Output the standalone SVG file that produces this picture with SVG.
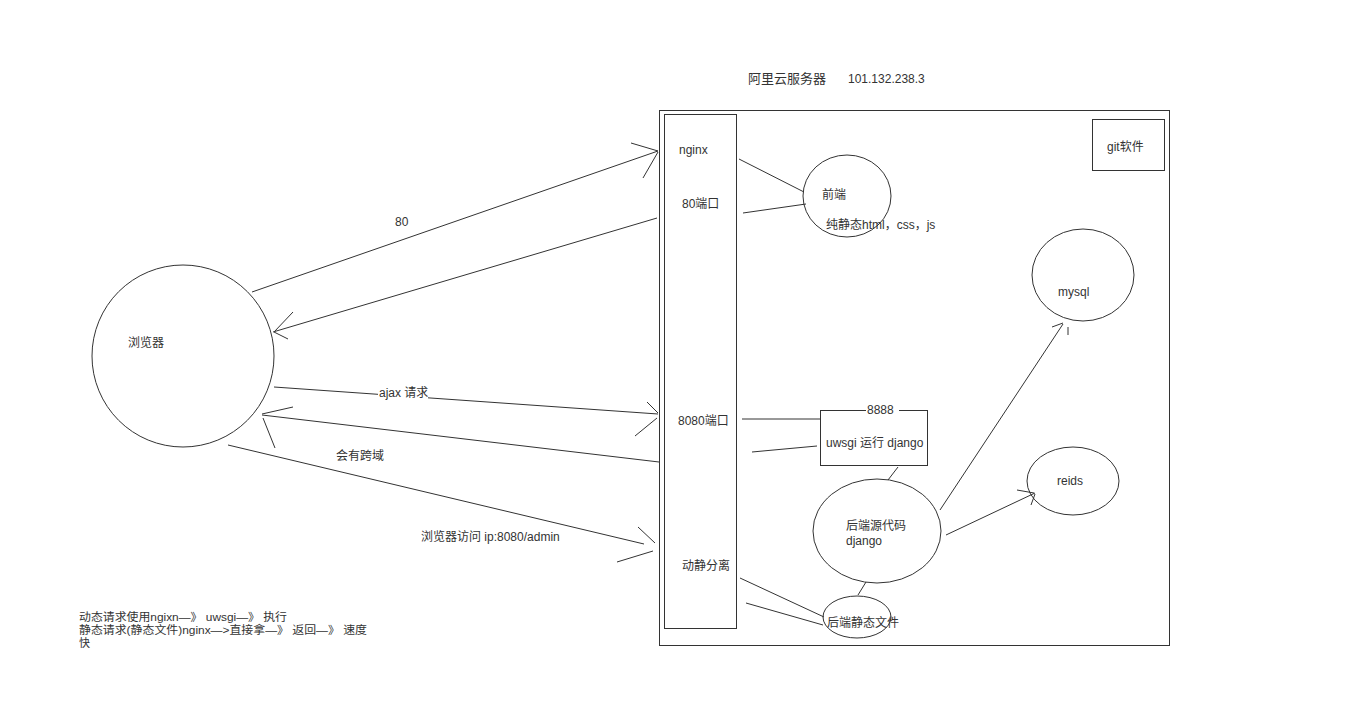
<svg xmlns="http://www.w3.org/2000/svg" width="1355" height="703" viewBox="0 0 1355 703">
<style>
text{font-family:"Liberation Sans","Noto Sans CJK SC",sans-serif;font-size:12px;fill:#333}
.t13{font-size:13px}
.note{font-size:11px}
.s{fill:none;stroke:#333;stroke-width:1}
.n{fill:#fff;stroke:#333;stroke-width:1}
.bg{fill:#fff}
</style>
<rect x="0" y="0" width="1355" height="703" fill="#fff"/>
<g id="title">
<text class="t13" x="748" y="83">阿里云服务器</text>
<text x="848" y="83">101.132.238.3</text>
</g>
<g id="server"><rect class="n" x="659.5" y="110.5" width="510" height="535"/></g>
<g id="nginx-col">
<rect class="n" x="664.5" y="114.5" width="72" height="514"/>
<text x="679" y="154">nginx</text>
<text x="682" y="208">80端口</text>
<text x="678" y="425">8080端口</text>
<text x="682" y="570">动静分离</text>
</g>
<g id="git"><rect class="n" x="1092.5" y="119.5" width="72" height="51"/><text x="1107" y="151">git软件</text></g>
<g id="browser"><circle class="n" cx="183" cy="356" r="91"/><text x="128" y="347">浏览器</text></g>
<g id="frontend"><ellipse class="n" cx="847" cy="196" rx="44" ry="41"/><text x="822" y="199">前端</text><text x="826" y="229">纯静态html，css，js</text></g>
<g id="mysql"><ellipse class="n" cx="1083" cy="275" rx="51" ry="46"/><text x="1058" y="296">mysql</text></g>
<g id="reids"><ellipse class="n" cx="1073" cy="481" rx="46" ry="34"/><text x="1057" y="485">reids</text></g>
<g id="uwsgi"><rect class="n" x="820.5" y="410.5" width="107" height="55"/><rect class="bg" x="866" y="404" width="33" height="12"/><text x="867" y="414">8888</text><text x="826" y="447">uwsgi 运行 django</text></g>
<g id="backend"><ellipse class="n" cx="877" cy="531" rx="64" ry="52"/><text x="846" y="530">后端源代码</text><text x="846" y="545">django</text></g>
<g id="static"><ellipse class="n" cx="857" cy="617" rx="34" ry="21"/><text x="827" y="627">后端静态文件</text></g>
<g id="connectors" class="s">
<path class="s" d="M252 292L658 151M631 143L658 151M643 178L658 152"/>
<path class="s" d="M657 218L273 332M293 312L274 332M288 339L274 332"/>
<path class="s" d="M274 387L658 414M647 402L658 413M635 436L657 418"/>
<path class="s" d="M659 462L262 415M293 407L262 414M275 448L263 418"/>
<path class="s" d="M228 445L644 544M638 527L655 543M617 562L653 551"/>
<path class="s" d="M739 159L804 192M743 213L806 204"/>
<path class="s" d="M742 419L820 419M752 452L817 446"/>
<path class="s" d="M898 467L888 480M866 582L858 595"/>
<path class="s" d="M740 578L824 617M746 603L823 625"/>
<path class="s" d="M940 510L1063 324M1052 327L1063 323"/>
<path class="s" d="M946 535L1035 493M1017 490L1034 493M1031 505L1035 494"/>
<path class="s" d="M1068 327L1068 335"/>
</g>
<g id="labels">
<text x="395" y="226">80</text>
<rect class="bg" x="378" y="387" width="50" height="13"/>
<text x="379" y="397">ajax 请求</text>
<text x="336" y="460">会有跨域</text>
<text x="421" y="541">浏览器访问 ip:8080/admin</text>
</g>
<g id="notes">
<text class="note" x="79" y="621" textLength="208" lengthAdjust="spacingAndGlyphs">动态请求使用ngixn—》 uwsgi—》 执行</text>
<text class="note" x="79" y="634" textLength="288" lengthAdjust="spacingAndGlyphs">静态请求(静态文件)nginx—&gt;直接拿—》 返回—》 速度</text>
<text class="note" x="79" y="647">快</text>
</g>
</svg>
